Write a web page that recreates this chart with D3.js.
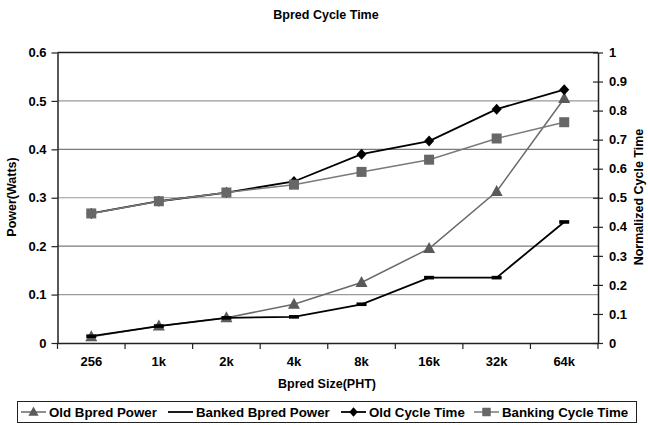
<!DOCTYPE html>
<html>
<head>
<meta charset="utf-8">
<script src="https://cdn.jsdelivr.net/npm/d3@7"></script>
<style>
  body { margin: 0; background: #fff; }
  svg text { font-family: "Liberation Sans", Arial, sans-serif; font-weight: bold; fill: #000; }
</style>
</head>
<body>
<svg width="648" height="425"></svg>
<script>
const sizes = ['256', '1k', '2k', '4k', '8k', '16k', '32k', '64k']
const oldPower = [0.013, 0.035, 0.052, 0.080, 0.125, 0.195, 0.313, 0.505]
const bankedPower = [0.014, 0.035, 0.052, 0.054, 0.080, 0.135, 0.135, 0.250]
const oldCycle = [0.446, 0.488, 0.518, 0.556, 0.650, 0.695, 0.805, 0.872]
const bankingCycle = [0.446, 0.488, 0.518, 0.545, 0.589, 0.631, 0.704, 0.760]
const powerTicks = [0, 0.1, 0.2, 0.3, 0.4, 0.5, 0.6]
const cycleTicks = [0, 0.1, 0.2, 0.3, 0.4, 0.5, 0.6, 0.7, 0.8, 0.9, 1]

const margin = { left: 57.5, right: 598, top: 52.5, bottom: 343 }

const svg = d3.select('svg')

const xScale = d3.scaleBand()
    .domain(sizes)
    .range([margin.left, margin.right])
    .padding(0)
const xc = d => xScale(d) + xScale.bandwidth() / 2

const yLeft = d3.scaleLinear()
    .domain([0, 0.6])
    .range([margin.bottom, margin.top])
const yRight = d3.scaleLinear()
    .domain([0, 1])
    .range([margin.bottom, margin.top])

// gridlines
svg.append('g')
    .selectAll('line')
    .data(powerTicks.slice(1))
    .enter()
    .append('line')
    .attr('x1', margin.left)
    .attr('x2', margin.right)
    .attr('y1', d => yLeft(d))
    .attr('y2', d => yLeft(d))
    .attr('stroke', (d, i) => (i % 2 === 0 ? '#9a9a9a' : '#7a7a7a'))
    .attr('stroke-width', 1.2)

svg.append('line')
    .attr('x1', margin.left).attr('x2', margin.right)
    .attr('y1', margin.top).attr('y2', margin.top)
    .attr('stroke', '#222').attr('stroke-width', 1.3)

// axes
const styleAxis = g => {
    g.select('.domain').attr('stroke', '#222').attr('stroke-width', 1.5)
    g.selectAll('.tick line').attr('stroke', '#222').attr('stroke-width', 1.2)
    g.selectAll('.tick text').style('font-size', '13px')
}

svg.append('g')
    .attr('transform', `translate(${margin.left},0)`)
    .call(d3.axisLeft(yLeft).tickValues(powerTicks).tickSize(6).tickSizeOuter(0)
        .tickFormat(d => d === 0 ? '0' : d3.format('.1f')(d)).tickPadding(5))
    .call(styleAxis)

svg.append('g')
    .attr('transform', `translate(${margin.right},0)`)
    .call(d3.axisRight(yRight).tickValues(cycleTicks).tickSize(5).tickSizeOuter(0)
        .tickFormat(d => (d === 0 || d === 1) ? String(d) : d3.format('.1f')(d)).tickPadding(6))
    .call(styleAxis)
    .call(g => g.selectAll('.tick line').attr('x1', -5))

const gx = svg.append('g')
    .attr('transform', `translate(0,${margin.bottom})`)
    .call(d3.axisBottom(xScale).tickSize(0).tickSizeOuter(0).tickPadding(14))
    .call(styleAxis)
gx.selectAll('.boundary')
    .data(d3.range(sizes.length + 1))
    .enter()
    .append('line')
    .attr('x1', i => margin.left + i * xScale.bandwidth())
    .attr('x2', i => margin.left + i * xScale.bandwidth())
    .attr('y1', 0)
    .attr('y2', 6)
    .attr('stroke', '#222')
    .attr('stroke-width', 1.2)

// titles
svg.append('text')
    .attr('x', 326).attr('y', 19)
    .attr('text-anchor', 'middle')
    .style('font-size', '12.5px')
    .text('Bpred Cycle Time')

svg.append('text')
    .attr('x', 327).attr('y', 388)
    .attr('text-anchor', 'middle')
    .style('font-size', '12.5px')
    .text('Bpred Size(PHT)')

svg.append('text')
    .attr('transform', 'translate(16,197) rotate(-90)')
    .attr('text-anchor', 'middle')
    .style('font-size', '12.5px')
    .text('Power(Watts)')

svg.append('text')
    .attr('transform', 'translate(643,197) rotate(-90)')
    .attr('text-anchor', 'middle')
    .style('font-size', '12.5px')
    .text('Normalized Cycle Time')

// series
const series = [
    { name: 'Old Bpred Power', values: oldPower, y: yLeft, line: '#6a6a6a', fill: '#5a5a5a', width: 1.5, marker: 'triangle' },
    { name: 'Banked Bpred Power', values: bankedPower, y: yLeft, line: '#000', fill: '#000', width: 1.8, marker: 'dash' },
    { name: 'Old Cycle Time', values: oldCycle, y: yRight, line: '#000', fill: '#000', width: 1.8, marker: 'diamond' },
    { name: 'Banking Cycle Time', values: bankingCycle, y: yRight, line: '#7a7a7a', fill: '#676767', width: 1.5, marker: 'square' }
]

const drawMarker = (g, type, fill) => {
    if (type === 'triangle') {
        g.append('path').attr('d', 'M0,-6.5L6,4.5L-6,4.5Z').attr('fill', fill)
    } else if (type === 'dash') {
        g.append('rect').attr('x', -5).attr('y', -1.8).attr('width', 10).attr('height', 3.6).attr('fill', fill)
    } else if (type === 'diamond') {
        g.append('path').attr('d', 'M0,-5.5L5,0L0,5.5L-5,0Z').attr('fill', fill)
    } else {
        g.append('rect').attr('x', -5).attr('y', -5).attr('width', 10).attr('height', 10).attr('fill', fill)
    }
}

series.forEach(s => {
    const line = d3.line()
        .x((d, i) => xc(sizes[i]))
        .y(d => s.y(d))
    svg.append('path')
        .datum(s.values)
        .attr('d', line)
        .attr('fill', 'none')
        .attr('stroke', s.line)
        .attr('stroke-width', s.width)
    svg.append('g')
        .selectAll('g')
        .data(s.values)
        .enter()
        .append('g')
        .attr('transform', (d, i) => `translate(${xc(sizes[i])},${s.y(d)})`)
        .each(function () { drawMarker(d3.select(this), s.marker, s.fill) })
})

// legend
const legend = svg.append('g')
legend.append('rect')
    .attr('x', 17.5).attr('y', 401.5)
    .attr('width', 619).attr('height', 21)
    .attr('fill', '#fff').attr('stroke', '#222').attr('stroke-width', 1)

const legendX = [21, 168, 341, 474]
series.forEach((s, i) => {
    const item = legend.append('g').attr('transform', `translate(${legendX[i]},412)`)
    item.append('line')
        .attr('x1', 0).attr('x2', 25)
        .attr('stroke', s.line).attr('stroke-width', s.width)
    if (s.marker !== 'dash') {
        const m = item.append('g').attr('transform', 'translate(12.5,0) scale(0.85)')
        drawMarker(m, s.marker, s.fill)
    }
    item.append('text')
        .attr('x', 28).attr('y', 5)
        .style('font-size', '13.3px')
        .text(s.name)
})
</script>
</body>
</html>
